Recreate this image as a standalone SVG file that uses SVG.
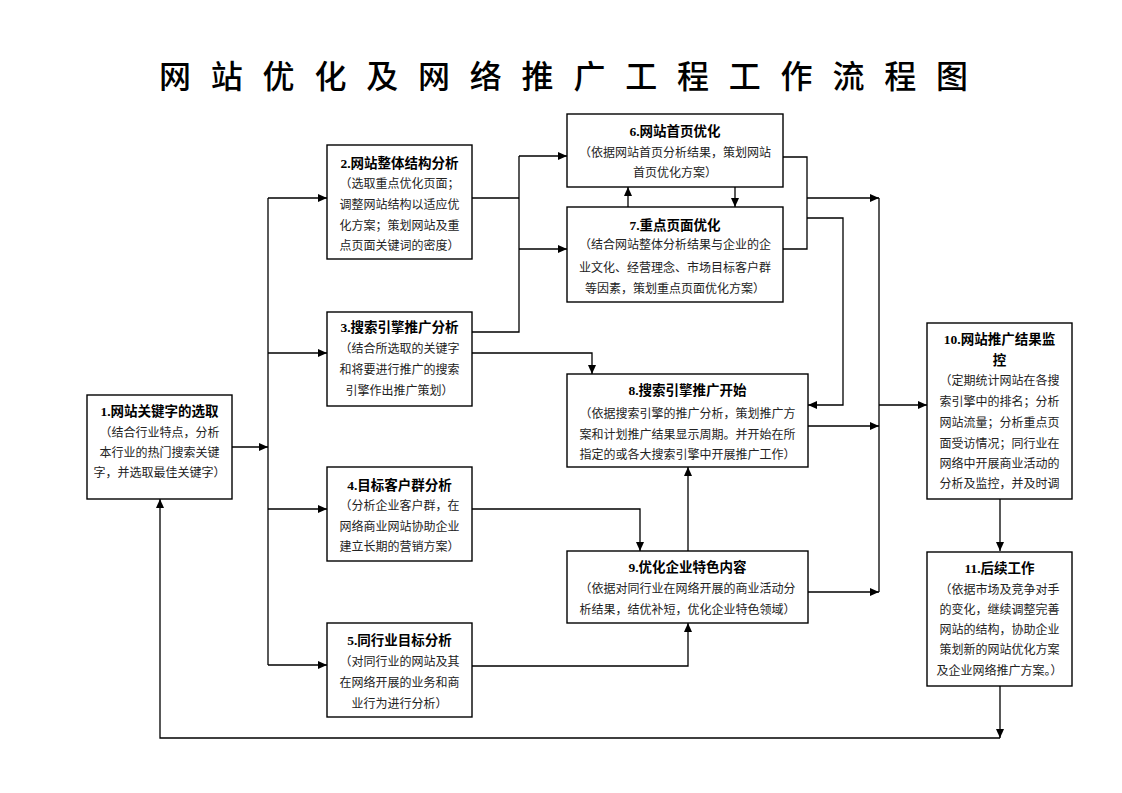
<svg xmlns="http://www.w3.org/2000/svg" width="1122" height="793" viewBox="0 0 1122 793">
<style>
.bx{fill:#fff;stroke:#000;stroke-width:1.4}
.t{font-family:"Liberation Serif","Noto Sans CJK SC",serif;font-size:13.5px;font-weight:bold;text-anchor:middle;fill:#000}
.b{font-family:"Liberation Serif","Noto Sans CJK SC",serif;font-size:12px;text-anchor:middle;fill:#222}
.c{fill:none;stroke:#000;stroke-width:1.3}
.ttl{font-family:"Noto Sans CJK SC",sans-serif;font-size:32px;font-weight:500;letter-spacing:19.8px;fill:#000}
</style>
<defs>
<marker id="a" markerWidth="9" markerHeight="8" refX="9" refY="4" orient="auto" markerUnits="userSpaceOnUse"><path d="M0,0 L9,4 L0,8 z" fill="#000"/></marker>
</defs>
<rect width="1122" height="793" fill="#fff"/>
<text class="ttl" x="159" y="88">网站优化及网络推广工程工作流程图</text>

<g id="connectors">
<path class="c" d="M232,447 H268" marker-end="url(#a)"/>
<path class="c" d="M268,198 V665"/>
<path class="c" d="M268,198 H327" marker-end="url(#a)"/>
<path class="c" d="M268,353 H327" marker-end="url(#a)"/>
<path class="c" d="M268,509 H327" marker-end="url(#a)"/>
<path class="c" d="M268,665 H327" marker-end="url(#a)"/>
<path class="c" d="M472,198 H519"/>
<path class="c" d="M472,332 H519 V156"/>
<path class="c" d="M519,156 H567" marker-end="url(#a)"/>
<path class="c" d="M519,249 H567" marker-end="url(#a)"/>
<path class="c" d="M472,353 H592 V374" marker-end="url(#a)"/>
<path class="c" d="M628,207 V187" marker-end="url(#a)"/>
<path class="c" d="M735,187 V207" marker-end="url(#a)"/>
<path class="c" d="M783,157 H807 V249 H783"/>
<path class="c" d="M807,198 H879" marker-end="url(#a)"/>
<path class="c" d="M807,218 H843 V405 H808" marker-end="url(#a)"/>
<path class="c" d="M808,426 H879" marker-end="url(#a)"/>
<path class="c" d="M879,198 V592"/>
<path class="c" d="M879,405 H927" marker-end="url(#a)"/>
<path class="c" d="M472,509 H640 V551" marker-end="url(#a)"/>
<path class="c" d="M688,551 V467" marker-end="url(#a)"/>
<path class="c" d="M472,666 H688 V623" marker-end="url(#a)"/>
<path class="c" d="M808,592 H879" marker-end="url(#a)"/>
<path class="c" d="M1000,499 V551" marker-end="url(#a)"/>
<path class="c" d="M1000,686 V738" marker-end="url(#a)"/>
<path class="c" d="M1000,738 H160 V499" marker-end="url(#a)"/>
</g>

<g id="n1">
<rect class="bx" x="87" y="395" width="145" height="104"/>
<text class="t" x="159.5" y="416">1.网站关键字的选取</text>
<text class="b" x="159.5" y="437">（结合行业特点，分析</text>
<text class="b" x="159.5" y="457">本行业的热门搜索关键</text>
<text class="b" x="159.5" y="477">字，并选取最佳关键字）</text>
</g>

<g id="n2">
<rect class="bx" x="327" y="145" width="145" height="114"/>
<text class="t" x="399.5" y="168">2.网站整体结构分析</text>
<text class="b" x="399.5" y="188">（选取重点优化页面；</text>
<text class="b" x="399.5" y="209">调整网站结构以适应优</text>
<text class="b" x="399.5" y="230">化方案；策划网站及重</text>
<text class="b" x="399.5" y="250">点页面关键词的密度）</text>
</g>

<g id="n3">
<rect class="bx" x="327" y="312" width="145" height="94"/>
<text class="t" x="399.5" y="332">3.搜索引擎推广分析</text>
<text class="b" x="399.5" y="353">（结合所选取的关键字</text>
<text class="b" x="399.5" y="374">和将要进行推广的搜索</text>
<text class="b" x="399.5" y="395">引擎作出推广策划）</text>
</g>

<g id="n4">
<rect class="bx" x="327" y="467" width="145" height="94"/>
<text class="t" x="399.5" y="490">4.目标客户群分析</text>
<text class="b" x="399.5" y="510">（分析企业客户群，在</text>
<text class="b" x="399.5" y="531">网络商业网站协助企业</text>
<text class="b" x="399.5" y="551">建立长期的营销方案）</text>
</g>

<g id="n5">
<rect class="bx" x="327" y="623" width="145" height="94"/>
<text class="t" x="399.5" y="645">5.同行业目标分析</text>
<text class="b" x="399.5" y="666">（对同行业的网站及其</text>
<text class="b" x="399.5" y="687">在网络开展的业务和商</text>
<text class="b" x="399.5" y="708">业行为进行分析）</text>
</g>

<g id="n6">
<rect class="bx" x="567" y="114" width="216" height="73"/>
<text class="t" x="675" y="136">6.网站首页优化</text>
<text class="b" x="675" y="157">（依据网站首页分析结果，策划网站</text>
<text class="b" x="675" y="177">首页优化方案）</text>
</g>

<g id="n7">
<rect class="bx" x="567" y="207" width="216" height="95"/>
<text class="t" x="675" y="230">7.重点页面优化</text>
<text class="b" x="675" y="249">（结合网站整体分析结果与企业的企</text>
<text class="b" x="675" y="272">业文化、经营理念、市场目标客户群</text>
<text class="b" x="675" y="293">等因素，策划重点页面优化方案）</text>
</g>

<g id="n8">
<rect class="bx" x="567" y="374" width="241" height="93"/>
<text class="t" x="687.5" y="395">8.搜索引擎推广开始</text>
<text class="b" x="687.5" y="418">（依据搜索引擎的推广分析，策划推广方</text>
<text class="b" x="687.5" y="439">案和计划推广结果显示周期。并开始在所</text>
<text class="b" x="687.5" y="459">指定的或各大搜索引擎中开展推广工作）</text>
</g>

<g id="n9">
<rect class="bx" x="567" y="551" width="241" height="72"/>
<text class="t" x="687.5" y="572">9.优化企业特色内容</text>
<text class="b" x="687.5" y="593">（依据对同行业在网络开展的商业活动分</text>
<text class="b" x="687.5" y="614">析结果，结优补短，优化企业特色领域）</text>
</g>

<g id="n10">
<rect class="bx" x="927" y="323" width="145" height="176"/>
<text class="t" x="999.5" y="344">10.网站推广结果监</text>
<text class="t" x="999.5" y="365">控</text>
<text class="b" x="999.5" y="385">（定期统计网站在各搜</text>
<text class="b" x="999.5" y="406">索引擎中的排名；分析</text>
<text class="b" x="999.5" y="427">网站流量；分析重点页</text>
<text class="b" x="999.5" y="448">面受访情况；同行业在</text>
<text class="b" x="999.5" y="468">网络中开展商业活动的</text>
<text class="b" x="999.5" y="488">分析及监控，并及时调</text>
</g>

<g id="n11">
<rect class="bx" x="927" y="552" width="145" height="134"/>
<text class="t" x="999.5" y="573">11.后续工作</text>
<text class="b" x="999.5" y="594">（依据市场及竞争对手</text>
<text class="b" x="999.5" y="614">的变化，继续调整完善</text>
<text class="b" x="999.5" y="634">网站的结构，协助企业</text>
<text class="b" x="999.5" y="654">策划新的网站优化方案</text>
<text class="b" x="999.5" y="675">及企业网络推广方案。）</text>
</g>
</svg>
